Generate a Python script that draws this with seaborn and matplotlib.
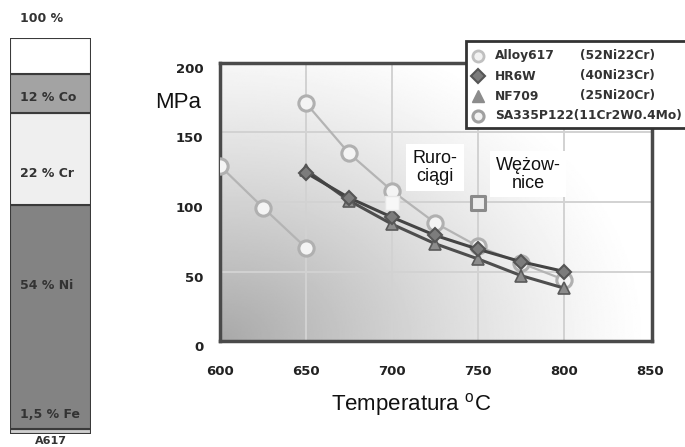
import numpy as np
import matplotlib
matplotlib.use("Agg")
import matplotlib.pyplot as plt
import matplotlib.transforms as mtransforms
from matplotlib.lines import Line2D
from matplotlib.patches import Rectangle
import seaborn as sns

# ---------------- data ----------------
temp_alloy617 = [650, 675, 700, 725, 750, 775, 800]
mpa_alloy617 = [171, 135, 108, 85, 68, 56, 44]
temp_hr6w = [650, 675, 700, 725, 750, 775, 800]
mpa_hr6w = [121, 103, 89, 76, 66, 57, 50]
temp_nf709 = [650, 675, 700, 725, 750, 775, 800]
mpa_nf709 = [123, 101, 84, 70, 59, 47, 38]
temp_sa335 = [600, 625, 650]
mpa_sa335 = [126, 96, 67]

pipe_temp = [700]
pipe_mpa = [99]
coil_temp = [750]
coil_mpa = [99]
note_labels = ["Ruro-\nciągi", "Wężow-\nnice"]

x_ticks = [600, 650, 700, 750, 800, 850]
y_ticks = [0, 50, 100, 150, 200]

legend_names = ["Alloy617", "HR6W", "NF709", "SA335P122"]
legend_comp = ["(52Ni22Cr)", "(40Ni23Cr)", "(25Ni20Cr)", "(11Cr2W0.4Mo)"]

bar_components = ["Fe", "Ni", "Cr", "Co", "rest"]
bar_shares = [1.3, 56.5, 23.2, 10.0, 9.0]
bar_labels = ["1,5 % Fe", "54 % Ni", "22 % Cr", "12 % Co", ""]
bar_name = "A617"
bar_top_label = "100 %"

# ---------------- figure ----------------
sns.set_theme(style="white")
plt.rcParams["font.family"] = ["Liberation Sans", "DejaVu Sans"]
W, H = 685, 447
fig = plt.figure(figsize=(W / 100, H / 100), dpi=100)
fig.patch.set_facecolor("white")

def fx(px):
    return px / W

def fy(py):
    return 1 - py / H

# ---- main axes ----
L, R, T, B = 220, 652, 63, 341
ax = fig.add_axes([fx(L), fy(B), (R - L) / W, (B - T) / H])
ax.set_facecolor("white")

# gradient background
nx, ny = 300, 200
u = np.linspace(0, 1, nx)[None, :]
v = np.linspace(0, 1, ny)[:, None]
dist = np.sqrt(u ** 2 + (v * 0.85) ** 2)
shade = 1 - 0.34 * np.clip(1 - dist, 0, 1) ** 1.2
ax.imshow(shade, extent=[0, 1, 0, 1], transform=ax.transAxes, origin="lower",
          aspect="auto", cmap="gray", vmin=0, vmax=1, zorder=0, interpolation="bilinear")

for xv in [650, 700, 750, 800]:
    ax.axvline(xv, color="#d2d2d2", lw=1.4, zorder=1)
for yv in [50, 100, 150]:
    ax.axhline(yv, color="#d2d2d2", lw=1.4, zorder=1)

light_kw = dict(color="#b4b4b4", lw=1.6, marker="o", markersize=11,
                markerfacecolor="#f4f4f4", markeredgecolor="#b0b0b0", markeredgewidth=2.2)
sns.lineplot(x=temp_sa335, y=mpa_sa335, ax=ax, zorder=3, **light_kw)
sns.lineplot(x=temp_alloy617, y=mpa_alloy617, ax=ax, zorder=3, **light_kw)
sns.lineplot(x=temp_nf709, y=mpa_nf709, ax=ax, zorder=4, color="#4e4e4e", lw=2.2,
             marker="^", markersize=9, markerfacecolor="#8c8c8c",
             markeredgecolor="#5a5a5a", markeredgewidth=1.2)
sns.lineplot(x=temp_hr6w, y=mpa_hr6w, ax=ax, zorder=5, color="#444444", lw=2.2,
             marker="D", markersize=7.5, markerfacecolor="#7c7c7c",
             markeredgecolor="#555555", markeredgewidth=1.5)

sns.scatterplot(x=pipe_temp, y=pipe_mpa, ax=ax, marker="s", s=110,
                color="#f7f7f7", edgecolor="#e6e6e6", linewidth=1, zorder=6)
sns.scatterplot(x=coil_temp, y=coil_mpa, ax=ax, marker="s", s=100,
                color="#ececec", edgecolor="#8a8a8a", linewidth=2.2, zorder=6)

ax.text(725, 124.6, note_labels[0], ha="center", va="center", fontsize=13,
        linespacing=1.05, color="#111111", zorder=7,
        bbox=dict(boxstyle="square,pad=0.35", fc="white", ec="none"))
ax.text(779, 120, note_labels[1], ha="center", va="center", fontsize=13,
        linespacing=1.05, color="#111111", zorder=7,
        bbox=dict(boxstyle="square,pad=0.3", fc="white", ec="none"))

ax.set_xlim(600, 851)
ax.set_ylim(0, 200)
ax.set_xticks(x_ticks)
ax.set_yticks(y_ticks)
ax.set_xticklabels([str(t) for t in x_ticks])
ax.set_yticklabels([str(t) for t in y_ticks])
ax.tick_params(axis="x", length=0, pad=17)
ax.tick_params(axis="y", length=0, pad=12)
for lab in ax.get_xticklabels() + ax.get_yticklabels():
    lab.set_fontfamily("DejaVu Sans")
    lab.set_fontweight("bold")
    lab.set_fontsize(9.5)
    lab.set_color("#222222")
off = mtransforms.ScaledTranslation(0, -0.05, fig.dpi_scale_trans)
for lab in ax.get_yticklabels():
    lab.set_transform(lab.get_transform() + off)
for sp in ax.spines.values():
    sp.set_visible(True)
    sp.set_color("#4a4a4a")
    sp.set_linewidth(2.5)
ax.set_xlabel("")
ax.set_ylabel("")

fig.text(fx(178), fy(103), "MPa", ha="center", va="center", fontsize=16, color="#111111")
fig.text(fx(411), fy(404), r"Temperatura $\mathregular{^o}$C", ha="center", va="center",
         fontsize=16, color="#111111")

# ---- legend (manual) ----
leg_box = Rectangle((fx(466), fy(128)), fx(700) - fx(466), fy(41) - fy(128),
                    transform=fig.transFigure, facecolor="white", edgecolor="#333333",
                    lw=2, zorder=10)
fig.add_artist(leg_box)
leg_styles = [
    dict(marker="o", markersize=8, markerfacecolor="#f2f2f2", markeredgecolor="#c0c0c0", markeredgewidth=2),
    dict(marker="D", markersize=7, markerfacecolor="#7c7c7c", markeredgecolor="#555555", markeredgewidth=1.5),
    dict(marker="^", markersize=9, markerfacecolor="#8c8c8c", markeredgecolor="#8c8c8c", markeredgewidth=1),
    dict(marker="o", markersize=8, markerfacecolor="#f2f2f2", markeredgecolor="#a0a0a0", markeredgewidth=2.2),
]
row_y = [56, 76, 96, 116]
for name, comp, st, ry in zip(legend_names, legend_comp, leg_styles, row_y):
    fig.add_artist(Line2D([fx(478)], [fy(ry)], transform=fig.transFigure, lw=0, zorder=11, **st))
    if name == "SA335P122":
        fig.text(fx(495), fy(ry), name + comp, ha="left", va="center", fontsize=8.8,
                 fontweight="bold", family="DejaVu Sans", color="#333333", zorder=12)
    else:
        fig.text(fx(495), fy(ry), name, ha="left", va="center", fontsize=8.8,
                 fontweight="bold", family="DejaVu Sans", color="#333333", zorder=12)
        fig.text(fx(580), fy(ry), comp, ha="left", va="center", fontsize=8.8,
                 fontweight="bold", family="DejaVu Sans", color="#333333", zorder=12)

# ---- left composition bar ----
bx = fig.add_axes([fx(10), fy(434), 81 / W, 396 / H])
bar_colors = ["#cfcfcf", "#838383", "#efefef", "#a3a3a3", "#ffffff"]
bottom = 0
for comp, share, col in zip(bar_components, bar_shares, bar_colors):
    bx.bar(0, share, bottom=bottom, width=1, color=col, edgecolor="#3a3a3a", linewidth=1.5)
    bottom += share
bx.set_xlim(-0.5, 0.5)
bx.set_ylim(0, 100)
bx.axis("off")
label_y = [4.8, 37.6, 65.7, 85.0]
btrans = mtransforms.blended_transform_factory(bx.transAxes, bx.transData)
for lab, yy in zip(bar_labels[:4], label_y):
    bx.text(0.12, yy, lab, transform=btrans, ha="left", va="center", fontsize=9,
            fontweight="bold", family="DejaVu Sans", color="#333333")
fig.text(fx(20), fy(18), bar_top_label, ha="left", va="center", fontsize=9,
         fontweight="bold", family="DejaVu Sans", color="#333333")
fig.text(fx(50.5), fy(440.5), bar_name, ha="center", va="center", fontsize=8,
         fontweight="bold", family="DejaVu Sans", color="#333333")

fig.savefig("out.png", dpi=100)
